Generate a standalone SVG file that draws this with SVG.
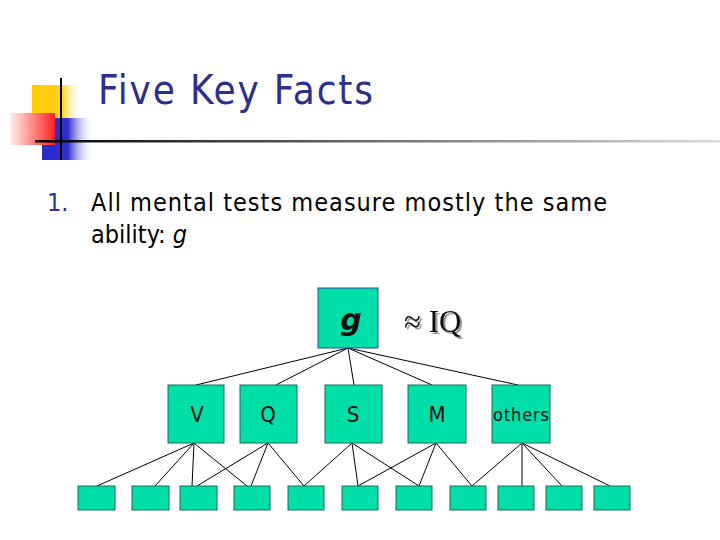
<svg xmlns="http://www.w3.org/2000/svg" width="720" height="540" viewBox="0 0 720 540">
<style>
.box{fill:#00dfa8;stroke:#1a6a5a;stroke-width:1}
.lbl{font-family:"DejaVu Sans Condensed","DejaVu Sans",sans-serif;font-size:22px;fill:#111;text-anchor:middle}
.body{font-family:"DejaVu Sans Condensed","DejaVu Sans",sans-serif;font-size:25px;fill:#000}
#conn line{stroke:#000;stroke-width:1}
</style>
<defs>
<linearGradient id="hl" x1="0" x2="1"><stop offset="0" stop-color="#000"/><stop offset="1" stop-color="#ddd"/></linearGradient>
<linearGradient id="rd" x1="0" x2="1"><stop offset="0" stop-color="#fff0f0"/><stop offset="1" stop-color="#ff2020"/></linearGradient>
<linearGradient id="bl" x1="0" x2="1"><stop offset="0" stop-color="#2a2acc"/><stop offset="0.5" stop-color="#3030cc"/><stop offset="1" stop-color="#fff" stop-opacity="0"/></linearGradient>
<linearGradient id="yl" x1="0" x2="1"><stop offset="0" stop-color="#ffcc00"/><stop offset="0.6" stop-color="#ffd020"/><stop offset="1" stop-color="#fff" stop-opacity="0"/></linearGradient>
<filter id="shd" x="-10%" y="-10%" width="130%" height="130%"><feDropShadow dx="2" dy="2" stdDeviation="0.5" flood-color="#999"/></filter>
</defs>
<rect width="720" height="540" fill="#fff"/>
<g id="decor">
<rect x="32" y="85" width="50" height="45" fill="url(#yl)"/>
<rect x="42" y="118" width="52" height="42" fill="url(#bl)"/>
<rect x="10" y="113" width="45" height="32" fill="url(#rd)"/>
<line x1="61" y1="78" x2="61" y2="160" stroke="#000" stroke-width="2"/>
<rect x="35" y="140" width="685" height="2.5" fill="url(#hl)"/>
</g>
<text x="98" y="104" font-family="DejaVu Sans Condensed,DejaVu Sans,sans-serif" font-size="40" fill="#2e2e8c" textLength="275">Five Key Facts</text>
<text x="47" y="211" class="body" style="fill:#2e2e9c">1.</text>
<text x="91" y="211" class="body" textLength="516">All mental tests measure mostly the same</text>
<text x="91" y="243" class="body">ability: <tspan font-style="italic">g</tspan></text>
<g id="conn">
<line x1="348" y1="348" x2="196" y2="385"/><line x1="348" y1="348" x2="276" y2="385"/><line x1="348" y1="348" x2="354" y2="385"/><line x1="348" y1="348" x2="432" y2="385"/><line x1="348" y1="348" x2="518" y2="385"/>
<line x1="194" y1="443" x2="97" y2="486"/><line x1="194" y1="443" x2="155" y2="486"/><line x1="194" y1="443" x2="192" y2="486"/><line x1="194" y1="443" x2="247" y2="486"/>
<line x1="268" y1="443" x2="197" y2="486"/><line x1="268" y1="443" x2="251" y2="486"/><line x1="268" y1="443" x2="304" y2="486"/>
<line x1="352" y1="443" x2="304" y2="486"/><line x1="352" y1="443" x2="358" y2="486"/><line x1="352" y1="443" x2="419" y2="486"/>
<line x1="436" y1="443" x2="358" y2="486"/><line x1="436" y1="443" x2="419" y2="486"/><line x1="436" y1="443" x2="472" y2="486"/>
<line x1="522" y1="443" x2="472" y2="486"/><line x1="522" y1="443" x2="522" y2="486"/><line x1="522" y1="443" x2="562" y2="486"/><line x1="522" y1="443" x2="610" y2="486"/>
</g>
<g id="g"><rect class="box" x="318" y="288" width="60" height="60" style="stroke:#2a4aa0"/>
<text x="351" y="330" class="lbl" style="font-family:'DejaVu Sans',sans-serif;font-size:30px;font-weight:bold;font-style:italic">g</text></g>
<g id="iq"><text x="404" y="332" filter="url(#shd)" style="font-family:'Liberation Serif',serif;font-size:31px;fill:#111">≈ IQ</text></g>
<g id="V"><rect class="box" x="168" y="385" width="56" height="58"/><text class="lbl" x="197" y="422">V</text></g>
<g id="Q"><rect class="box" x="240" y="385" width="57" height="58"/><text class="lbl" x="268" y="422">Q</text></g>
<g id="S"><rect class="box" x="325" y="385" width="57" height="58"/><text class="lbl" x="353" y="422">S</text></g>
<g id="M"><rect class="box" x="408" y="385" width="58" height="58"/><text class="lbl" x="437" y="422">M</text></g>
<g id="others"><rect class="box" x="492" y="385" width="58" height="58"/><text class="lbl" x="521" y="421" style="font-size:18px" textLength="56">others</text></g>
<g id="leaves">
<rect class="box" x="78" y="486" width="37" height="24"/><rect class="box" x="132" y="486" width="37" height="24"/><rect class="box" x="180" y="486" width="37" height="24"/><rect class="box" x="234" y="486" width="36" height="24"/><rect class="box" x="288" y="486" width="36" height="24"/><rect class="box" x="342" y="486" width="36" height="24"/><rect class="box" x="396" y="486" width="36" height="24"/><rect class="box" x="450" y="486" width="36" height="24"/><rect class="box" x="498" y="486" width="36" height="24"/><rect class="box" x="546" y="486" width="36" height="24"/><rect class="box" x="594" y="486" width="36" height="24"/>
</g>
</svg>
